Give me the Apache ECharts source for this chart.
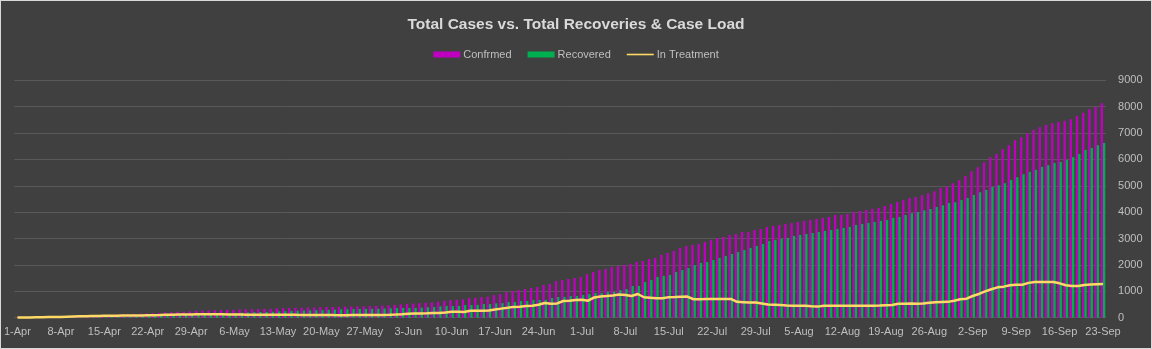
<!DOCTYPE html>
<html>
<head>
<meta charset="utf-8">
<title>Total Cases vs. Total Recoveries &amp; Case Load</title>
<script src="https://cdn.jsdelivr.net/npm/echarts@6/dist/echarts.min.js"></script>
<style>
  html, body { margin: 0; padding: 0; background: #404040; }
  #chart { width: 1152px; height: 349px; box-sizing: border-box; border: 1px solid #d9d9d9; }
</style>
</head>
<body>
<div id="chart"></div>
<script>
// Daily figures, 1 April to 23 September
const months = [['Apr', 30], ['May', 31], ['Jun', 30], ['Jul', 31], ['Aug', 31], ['Sep', 23]];
const dates = [];
months.forEach(([m, n]) => { for (let d = 1; d <= n; d++) dates.push(d + '-' + m); });

const confirmed = [
  8, 10, 12, 15, 18, 22, 26, 30, 40, 50,
  58, 65, 72, 80, 88, 96, 105, 115, 125, 140,
  150, 160, 170, 185, 200, 212, 222, 230, 245, 262,
  270, 278, 286, 292, 296, 300, 312, 318, 322, 328,
  334, 340, 350, 362, 368, 372, 378, 382, 390, 398,
  404, 406, 410, 418, 425, 430, 435, 440, 448, 460,
  470, 485, 505, 525, 540, 548, 565, 590, 612, 640,
  668, 676, 697, 745, 755, 785, 800, 860, 897, 970,
  1010, 1050, 1085, 1125, 1165, 1240, 1278, 1390, 1430, 1468,
  1505, 1545, 1655, 1735, 1810, 1845, 1925, 1960, 2000, 2035,
  2115, 2150, 2225, 2265, 2380, 2455, 2530, 2643, 2720, 2757,
  2795, 2871, 2947, 3023, 3060, 3136, 3174, 3250, 3255, 3326,
  3364, 3440, 3478, 3516, 3554, 3592, 3630, 3668, 3706, 3744,
  3782, 3820, 3896, 3900, 3934, 4010, 4048, 4086, 4124, 4162,
  4238, 4312, 4388, 4462, 4538, 4576, 4640, 4716, 4792, 4918,
  4982, 5096, 5210, 5374, 5551, 5703, 5893, 6083, 6210, 6387,
  6538, 6728, 6842, 6994, 7121, 7222, 7311, 7374, 7425, 7463,
  7526, 7653, 7767, 7905, 7994, 8131
];

const recovered = [
  0, 0, 0, 0, 0, 0, 0, 0, 2, 4,
  6, 8, 10, 14, 18, 22, 28, 35, 45, 55,
  62, 70, 78, 85, 90, 95, 100, 110, 118, 125,
  135, 145, 155, 162, 170, 180, 190, 200, 208, 215,
  222, 228, 238, 250, 255, 262, 270, 278, 284, 290,
  295, 305, 315, 320, 325, 330, 332, 335, 340, 350,
  355, 362, 368, 368, 370, 380, 393, 405, 430, 440,
  443, 445, 480, 482, 485, 518, 520, 543, 550, 594,
  596, 632, 635, 670, 672, 675, 745, 783, 790, 820,
  822, 858, 896, 934, 938, 972, 976, 1048, 1086, 1200,
  1205, 1352, 1428, 1542, 1580, 1618, 1732, 1808, 1884, 1998,
  2073, 2111, 2187, 2263, 2339, 2415, 2491, 2567, 2643, 2719,
  2795, 2909, 2947, 2985, 3023, 3099, 3137, 3175, 3213, 3251,
  3289, 3327, 3365, 3403, 3441, 3517, 3555, 3593, 3631, 3669,
  3707, 3783, 3818, 3894, 3957, 4008, 4071, 4122, 4198, 4261,
  4350, 4375, 4464, 4540, 4654, 4755, 4843, 4957, 5020, 5097,
  5223, 5324, 5438, 5527, 5603, 5717, 5780, 5869, 5907, 5982,
  6084, 6210, 6362, 6438, 6539, 6627
];

const inTreatment = [
  8, 10, 12, 15, 18, 22, 26, 30, 38, 45,
  52, 57, 62, 66, 70, 74, 77, 80, 80, 85,
  88, 90, 92, 98, 108, 115, 120, 118, 125, 135,
  133, 131, 129, 128, 124, 118, 120, 116, 112, 111,
  110, 110, 110, 110, 111, 108, 106, 102, 104, 106,
  107, 99, 93, 96, 98, 98, 100, 102, 105, 107,
  112, 120, 132, 150, 160, 160, 165, 180, 175, 195,
  222, 228, 214, 260, 267, 264, 277, 314, 344, 374,
  410, 415, 447, 452, 490, 560, 530, 540, 632, 640,
  670, 680, 645, 770, 800, 820, 845, 880, 860, 822,
  898, 775, 760, 740, 735, 780, 785, 795, 800, 700,
  695, 712, 710, 710, 712, 710, 600, 590, 575, 580,
  540, 500, 495, 480, 458, 455, 455, 450, 430, 420,
  450, 455, 455, 457, 455, 455, 455, 455, 457, 460,
  470, 480, 530, 532, 535, 530, 535, 570, 590, 595,
  600, 640, 700, 722, 823, 900, 1000, 1077, 1150, 1177,
  1230, 1253, 1250, 1320, 1354, 1354, 1350, 1354, 1303, 1230,
  1202, 1200, 1240, 1260, 1270, 1278
];

const yTicks = { min: 0, max: 9000, interval: 1000 };

const textGrey = '#bfbfbf';
const font = '"Liberation Sans", Arial, sans-serif';

const chart = echarts.init(document.getElementById('chart'), null, { renderer: 'canvas' });
chart.setOption({
  backgroundColor: '#404040',
  animation: false,
  title: {
    text: 'Total Cases vs. Total Recoveries & Case Load',
    left: 'center',
    top: 11,
    textStyle: {
      color: '#d9d9d9',
      fontSize: 15.5,
      fontWeight: 'bold',
      fontFamily: font
    }
  },
  legend: {
    top: 43,
    left: 'center',
    itemWidth: 27,
    itemHeight: 6,
    itemGap: 16,
    textStyle: { color: textGrey, fontSize: 11, fontFamily: font, padding: [0, 0, 0, -2] },
    data: [
      { name: 'Confrmed', icon: 'rect' },
      { name: 'Recovered', icon: 'rect' },
      // flat line key for the treatment curve
      { name: 'In Treatment', icon: 'path://M0,0 H27 V1.6 H0 Z' }
    ]
  },
  grid: { left: 11.9, right: 44.9, top: 79.3, bottom: 30.3 },
  xAxis: {
    type: 'category',
    data: dates,
    boundaryGap: true,
    axisLine: { show: false },
    axisTick: { show: false },
    axisLabel: {
      interval: 6,
      color: textGrey,
      fontSize: 11,
      fontFamily: font,
      margin: 9
    }
  },
  yAxis: {
    type: 'value',
    position: 'right',
    min: yTicks.min,
    max: yTicks.max,
    interval: yTicks.interval,
    axisLine: { show: false },
    axisTick: { show: false },
    axisLabel: {
      color: textGrey,
      fontSize: 11,
      fontFamily: font,
      margin: 12,
      formatter: (v) => String(v)
    },
    splitLine: { lineStyle: { color: '#595959', width: 1 } }
  },
  series: [
    {
      name: 'Confrmed',
      type: 'bar',
      data: confirmed,
      barWidth: '37%',
      barGap: '0%',
      itemStyle: { color: '#c000c0' }
    },
    {
      name: 'Recovered',
      type: 'bar',
      data: recovered,
      barWidth: '37%',
      itemStyle: { color: '#00b050' }
    },
    {
      name: 'In Treatment',
      type: 'line',
      data: inTreatment,
      symbol: 'none',
      lineStyle: { color: '#ffd966', width: 2.5 },
      itemStyle: { color: '#ffd966' }
    }
  ]
});
</script>
</body>
</html>
